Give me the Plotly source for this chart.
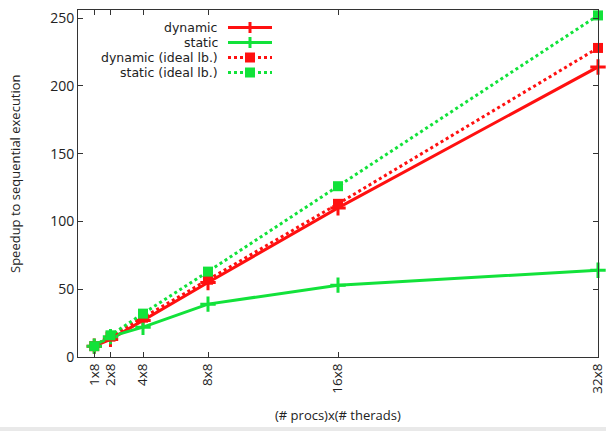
import plotly.graph_objects as go

procs = [1, 2, 4, 8, 16, 32]
tick_labels = ["1x8", "2x8", "4x8", "8x8", "16x8", "32x8"]

dynamic = [8, 13, 27, 55, 110, 214]
static = [8, 15, 22, 39, 53, 64]
dynamic_ideal = [8, 15, 29, 57, 113, 228]
static_ideal = [8, 16, 32, 63, 126, 252]

series_names = ["dynamic", "static", "dynamic (ideal lb.)", "static (ideal lb.)"]
y_ticks = [0, 50, 100, 150, 200, 250]

RED = "#ff1010"
GREEN = "#12e23a"
FONT = "Open Sans"
LEG_FONT = "DejaVu Sans"
TXT = "#222222"

fig = go.Figure()

fig.add_trace(go.Scatter(x=procs, y=dynamic, name=series_names[0], mode="lines+markers",
                         cliponaxis=False, line=dict(color=RED, width=3),
                         marker=dict(symbol="cross-thin", size=11, line=dict(color=RED, width=3))))
fig.add_trace(go.Scatter(x=procs, y=static, name=series_names[1], mode="lines+markers",
                         cliponaxis=False, line=dict(color=GREEN, width=3),
                         marker=dict(symbol="cross-thin", size=11, line=dict(color=GREEN, width=3))))
fig.add_trace(go.Scatter(x=procs, y=dynamic_ideal, name=series_names[2], mode="lines+markers",
                         cliponaxis=False, line=dict(color=RED, width=3, dash="dot"),
                         marker=dict(symbol="square", size=10, color=RED)))
fig.add_trace(go.Scatter(x=procs, y=static_ideal, name=series_names[3], mode="lines+markers",
                         cliponaxis=False, line=dict(color=GREEN, width=3, dash="dot"),
                         marker=dict(symbol="square", size=10, color=GREEN)))

# plot-area box in pixels
L, R, T, B = 78, 598, 10, 357
W, H = R - L, B - T
def px(x):
    return (x - L) / W
def py(y):
    return (B - y) / H

# manual gnuplot-style legend (text right-aligned, sample to the right)
rows = [27.5, 42.5, 57.5, 72.5]
styles = [(RED, "solid", "plus"), (GREEN, "solid", "plus"),
          (RED, "dot", "square"), (GREEN, "dot", "square")]
shapes = []
annotations = []
for name, yrow, (col, dash, mk) in zip(series_names, rows, styles):
    annotations.append(dict(xref="paper", yref="paper", x=px(219), y=py(yrow),
                            text=name, showarrow=False, xanchor="right", yanchor="middle",
                            borderpad=0,
                            font=dict(family=LEG_FONT, size=12.5, color=TXT)))
    shapes.append(dict(type="line", xref="paper", yref="paper",
                       x0=px(228), x1=px(272), y0=py(yrow), y1=py(yrow),
                       line=dict(color=col, width=3, dash=dash)))
    if mk == "plus":
        shapes.append(dict(type="line", xref="paper", yref="paper",
                           x0=px(250), x1=px(250), y0=py(yrow - 5.5), y1=py(yrow + 5.5),
                           line=dict(color=col, width=3)))
    else:
        shapes.append(dict(type="rect", xref="paper", yref="paper",
                           x0=px(245), x1=px(255), y0=py(yrow + 5), y1=py(yrow - 5),
                           line=dict(width=0), fillcolor=col))

# axis titles placed as annotations
annotations.append(dict(xref="paper", yref="paper", x=px(15), y=py(174),
                        text="Speedup to sequential execution", textangle=-90,
                        showarrow=False, xanchor="center", yanchor="middle",
                        font=dict(family=FONT, size=13, color=TXT)))
annotations.append(dict(xref="paper", yref="paper", x=px(338), y=py(415),
                        text="(# procs)x(# therads)",
                        showarrow=False, xanchor="center", yanchor="middle",
                        font=dict(family=FONT, size=13, color=TXT)))

# faint grey band at the very bottom of the image
shapes.append(dict(type="rect", xref="paper", yref="paper", layer="below",
                   x0=px(0), x1=px(606), y0=py(431), y1=py(427),
                   line=dict(width=0), fillcolor="#e9e9e9"))

fig.update_layout(
    width=606, height=431,
    margin=dict(l=L, r=606 - R, t=T, b=431 - B, autoexpand=False),
    paper_bgcolor="white", plot_bgcolor="white",
    showlegend=False,
    font=dict(family=FONT, size=13, color=TXT),
    shapes=shapes, annotations=annotations,
)

fig.update_xaxes(range=[0, 32], tickmode="array", tickvals=procs, ticktext=tick_labels,
                 tickangle=-90, ticks="inside", ticklen=5, tickcolor="#333",
                 showline=True, linecolor="#333", linewidth=1, mirror="ticks",
                 showgrid=False, zeroline=False, automargin=False,
                 ticklabeloverflow="allow",
                 tickfont=dict(size=13.5, family=FONT, color=TXT))
fig.update_yaxes(range=[0, 256], tickmode="array", tickvals=y_ticks,
                 ticks="inside", ticklen=5, tickcolor="#333",
                 showline=True, linecolor="#333", linewidth=1, mirror="ticks",
                 showgrid=False, zeroline=False, automargin=False,
                 tickfont=dict(size=14, family=FONT, color=TXT))

fig.write_html("out.html", config={"displayModeBar": False},
               post_script="document.body.style.margin='0';document.body.style.overflow='hidden';")
